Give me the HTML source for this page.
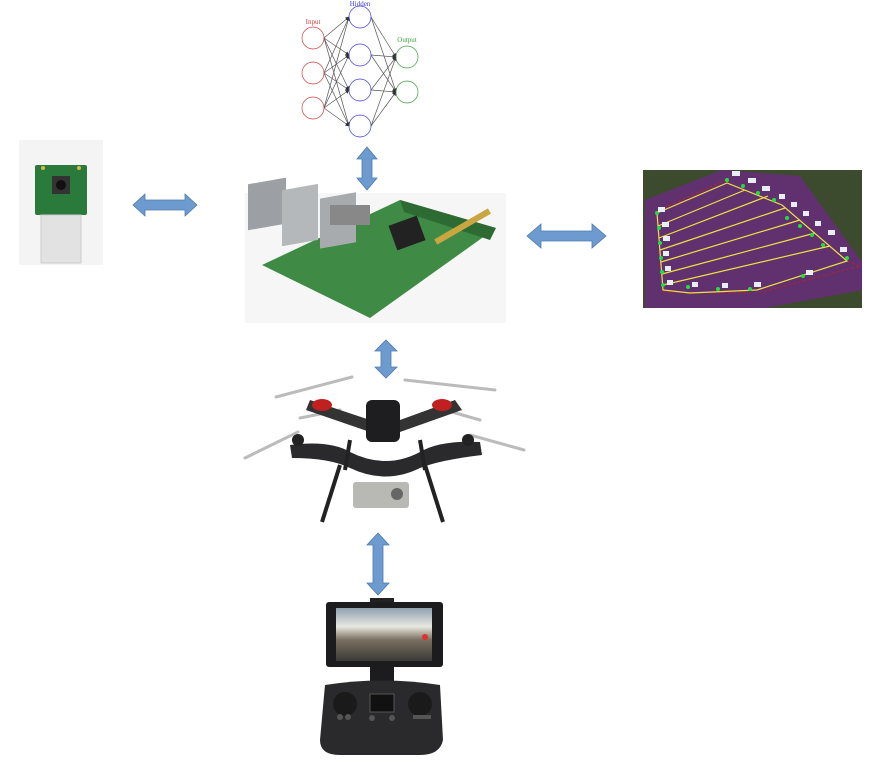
<!DOCTYPE html>
<html><head><meta charset="utf-8"><style>
html,body{margin:0;padding:0;background:#fff;}
svg{display:block;font-family:"Liberation Serif",serif;}
</style></head><body>
<svg width="887" height="765" viewBox="0 0 887 765">
<defs>
<marker id="ah" markerWidth="6" markerHeight="6" refX="5" refY="3" orient="auto"><path d="M0,0 L6,3 L0,6z" fill="#333"/></marker>
<linearGradient id="sky" x1="0" y1="0" x2="0" y2="1"><stop offset="0" stop-color="#8fa0b0"/><stop offset="0.35" stop-color="#e8e8e0"/><stop offset="0.6" stop-color="#7a7060"/><stop offset="1" stop-color="#3a3a38"/></linearGradient>
</defs>

<!-- neural network -->
<g fill="none" stroke-width="0.7">
<g stroke="#555" marker-end="url(#ah)">
<line x1="324" y1="38" x2="349" y2="17"/><line x1="324" y1="38" x2="349" y2="55"/><line x1="324" y1="38" x2="349" y2="90"/><line x1="324" y1="38" x2="349" y2="126"/>
<line x1="324" y1="73" x2="349" y2="17"/><line x1="324" y1="73" x2="349" y2="55"/><line x1="324" y1="73" x2="349" y2="90"/><line x1="324" y1="73" x2="349" y2="126"/>
<line x1="324" y1="108" x2="349" y2="17"/><line x1="324" y1="108" x2="349" y2="55"/><line x1="324" y1="108" x2="349" y2="90"/><line x1="324" y1="108" x2="349" y2="126"/>
<line x1="371" y1="17" x2="396" y2="57"/><line x1="371" y1="17" x2="396" y2="92"/>
<line x1="371" y1="55" x2="396" y2="57"/><line x1="371" y1="55" x2="396" y2="92"/>
<line x1="371" y1="90" x2="396" y2="57"/><line x1="371" y1="90" x2="396" y2="92"/>
<line x1="371" y1="126" x2="396" y2="57"/><line x1="371" y1="126" x2="396" y2="92"/>
</g>
<g stroke="#d04040"><circle cx="313" cy="38" r="11"/><circle cx="313" cy="73" r="11"/><circle cx="313" cy="108" r="11"/></g>
<g stroke="#4040d0"><circle cx="360" cy="17" r="11"/><circle cx="360" cy="55" r="11"/><circle cx="360" cy="90" r="11"/><circle cx="360" cy="126" r="11"/></g>
<g stroke="#40a040"><circle cx="407" cy="57" r="11"/><circle cx="407" cy="92" r="11"/></g>
<text x="313" y="24" font-size="7" fill="#d04040" stroke="none" text-anchor="middle">Input</text>
<text x="360" y="6" font-size="7" fill="#4040d0" stroke="none" text-anchor="middle">Hidden</text>
<text x="407" y="42" font-size="7" fill="#40a040" stroke="none" text-anchor="middle">Output</text>
</g>

<!-- arrows -->
<g fill="#6d9bd0" stroke="#4d7bb0" stroke-width="0.8">
<path d="M133,205 L145,194 L145,200 L185,200 L185,194 L197,205 L185,216 L185,210 L145,210 L145,216 Z"/>
<path d="M527,236 L541,224 L541,231 L592,231 L592,224 L606,236 L592,248 L592,241 L541,241 L541,248 Z"/>
<path d="M367,147 L377,159 L372,159 L372,178 L377,178 L367,190 L357,178 L362,178 L362,159 L357,159 Z"/>
<path d="M386,340 L397,351 L391,351 L391,367 L397,367 L386,378 L375,367 L381,367 L381,351 L375,351 Z"/>
<path d="M378,533 L389,545 L383,545 L383,583 L389,583 L378,595 L367,583 L373,583 L373,545 L367,545 Z"/>
</g>

<!-- camera module -->
<g>
<rect x="19" y="140" width="84" height="125" fill="#f4f4f4"/>
<rect x="35" y="165" width="52" height="50" rx="2" fill="#2a7a3c"/>
<rect x="52" y="176" width="18" height="18" fill="#333"/>
<circle cx="61" cy="185" r="5" fill="#111"/>
<rect x="41" y="215" width="40" height="48" fill="#e2e2e2" stroke="#ccc"/>
<circle cx="43" cy="168" r="2" fill="#d8b84a"/><circle cx="79" cy="168" r="2" fill="#d8b84a"/>
</g>

<!-- raspberry pi -->
<g>
<rect x="245" y="193" width="261" height="130" fill="#f6f6f6"/>
<path d="M262,265 L400,200 L496,228 L370,318 Z" fill="#3f8b46"/>
<path d="M400,200 L496,228 L490,240 L404,212 Z" fill="#2d6b33"/>
<rect x="392" y="220" width="30" height="26" fill="#222" transform="rotate(-20 407 233)"/>
<rect x="248" y="228" width="38" height="46" fill="#9ca0a4" transform="skewY(-10)"/>
<rect x="282" y="240" width="36" height="56" fill="#b5b8bb" transform="skewY(-10)"/>
<rect x="320" y="255" width="36" height="50" fill="#a8abae" transform="skewY(-10)"/>
<rect x="330" y="205" width="40" height="20" fill="#888"/>
<rect x="432" y="225" width="62" height="6" fill="#c9a640" transform="rotate(-30 460 228)"/>
</g>

<!-- mission map -->
<g>
<rect x="643" y="170" width="219" height="138" fill="#3c4a2e"/>
<path d="M645,200 L722,170 L800,176 L862,262 L862,290 L765,308 L645,308 Z" fill="#6a2a80" opacity="0.8"/>
<g stroke="#c02020" stroke-width="0.8" stroke-dasharray="3,2" fill="none">
<path d="M655,212 L725,180 M847,261 L860,266 L758,293 M663,292 L750,293"/>
</g>
<g stroke="#f0e040" stroke-width="1.2" fill="none">
<path d="M657,213 L727,183 L782,205 L847,261 L757,290 L690,293 L663,290 Z"/>
<line x1="658" y1="226" x2="745" y2="190"/><line x1="659" y1="238" x2="768" y2="196"/>
<line x1="660" y1="250" x2="785" y2="208"/><line x1="661" y1="262" x2="800" y2="220"/>
<line x1="662" y1="274" x2="815" y2="233"/><line x1="663" y1="285" x2="830" y2="246"/>
</g>
<g fill="#22dd44">
<circle cx="657" cy="213" r="2"/><circle cx="659" cy="228" r="2"/><circle cx="660" cy="243" r="2"/><circle cx="661" cy="258" r="2"/><circle cx="662" cy="272" r="2"/><circle cx="663" cy="285" r="2"/>
<circle cx="727" cy="180" r="2"/><circle cx="743" cy="186" r="2"/><circle cx="758" cy="193" r="2"/><circle cx="774" cy="200" r="2"/><circle cx="787" cy="218" r="2"/><circle cx="800" cy="226" r="2"/><circle cx="812" cy="235" r="2"/><circle cx="823" cy="245" r="2"/><circle cx="847" cy="258" r="2"/>
<circle cx="688" cy="287" r="2"/><circle cx="718" cy="289" r="2"/><circle cx="750" cy="289" r="2"/><circle cx="803" cy="276" r="2"/>
</g>
<g fill="#e8eef8">
<rect x="732" y="171" width="8" height="5"/><rect x="748" y="178" width="8" height="5"/><rect x="762" y="186" width="8" height="5"/><rect x="779" y="194" width="6" height="5"/><rect x="791" y="202" width="6" height="5"/><rect x="803" y="211" width="6" height="5"/><rect x="815" y="221" width="6" height="5"/><rect x="828" y="230" width="7" height="5"/><rect x="840" y="247" width="7" height="5"/>
<rect x="658" y="207" width="7" height="5"/><rect x="662" y="222" width="7" height="5"/><rect x="663" y="236" width="7" height="5"/><rect x="663" y="251" width="6" height="5"/><rect x="665" y="266" width="6" height="5"/><rect x="667" y="280" width="6" height="5"/><rect x="692" y="282" width="6" height="5"/><rect x="722" y="283" width="6" height="5"/><rect x="754" y="282" width="7" height="5"/><rect x="806" y="270" width="7" height="5"/>
</g>
</g>

<!-- drone -->
<g>
<g stroke="#bbb" stroke-width="3" stroke-linecap="round">
<line x1="276" y1="397" x2="352" y2="377"/><line x1="405" y1="380" x2="495" y2="390"/>
<line x1="245" y1="458" x2="298" y2="432"/><line x1="470" y1="435" x2="524" y2="450"/>
<line x1="300" y1="418" x2="340" y2="410"/><line x1="445" y1="410" x2="480" y2="420"/>
</g>
<path d="M290,445 Q330,440 350,452 Q386,470 420,452 Q440,440 480,442 L482,455 Q440,460 420,468 Q386,485 350,468 Q330,458 292,458 Z" fill="#2a2a2c"/>
<path d="M310,400 L370,420 L400,420 L455,400 L462,410 L400,432 L370,432 L306,410 Z" fill="#333"/>
<rect x="366" y="400" width="34" height="42" rx="6" fill="#1e1e20"/>
<ellipse cx="322" cy="405" rx="10" ry="6" fill="#c02020"/><ellipse cx="442" cy="405" rx="10" ry="6" fill="#c02020"/>
<circle cx="298" cy="440" r="6" fill="#222"/><circle cx="468" cy="440" r="6" fill="#222"/>
<g stroke="#222" stroke-width="4"><line x1="340" y1="465" x2="322" y2="522"/><line x1="425" y1="465" x2="443" y2="522"/><line x1="350" y1="440" x2="345" y2="470"/><line x1="420" y1="440" x2="425" y2="470"/></g>
<rect x="353" y="482" width="56" height="26" rx="3" fill="#b8b8b4"/>
<circle cx="397" cy="494" r="6" fill="#666"/>
</g>

<!-- controller -->
<g>
<rect x="370" y="598" width="24" height="6" fill="#222"/>
<rect x="326" y="602" width="117" height="65" rx="3" fill="#1c1c1e"/>
<rect x="336" y="608" width="96" height="53" fill="url(#sky)"/>
<circle cx="425" cy="637" r="3" fill="#e03030"/>
<rect x="370" y="667" width="24" height="16" fill="#1c1c1e"/>
<path d="M325,685 Q382,676 440,685 L443,740 Q440,755 420,755 L340,755 Q320,755 320,740 Z" fill="#2a2a2c"/>
<circle cx="345" cy="704" r="12" fill="#1a1a1a"/><circle cx="420" cy="704" r="12" fill="#1a1a1a"/>
<rect x="370" y="694" width="24" height="18" fill="#111" stroke="#555"/>
<g fill="#555"><circle cx="372" cy="718" r="3"/><circle cx="392" cy="718" r="3"/><circle cx="340" cy="717" r="3"/><circle cx="348" cy="717" r="3"/><rect x="413" y="715" width="18" height="4"/></g>
</g>
</svg>
</body></html>
